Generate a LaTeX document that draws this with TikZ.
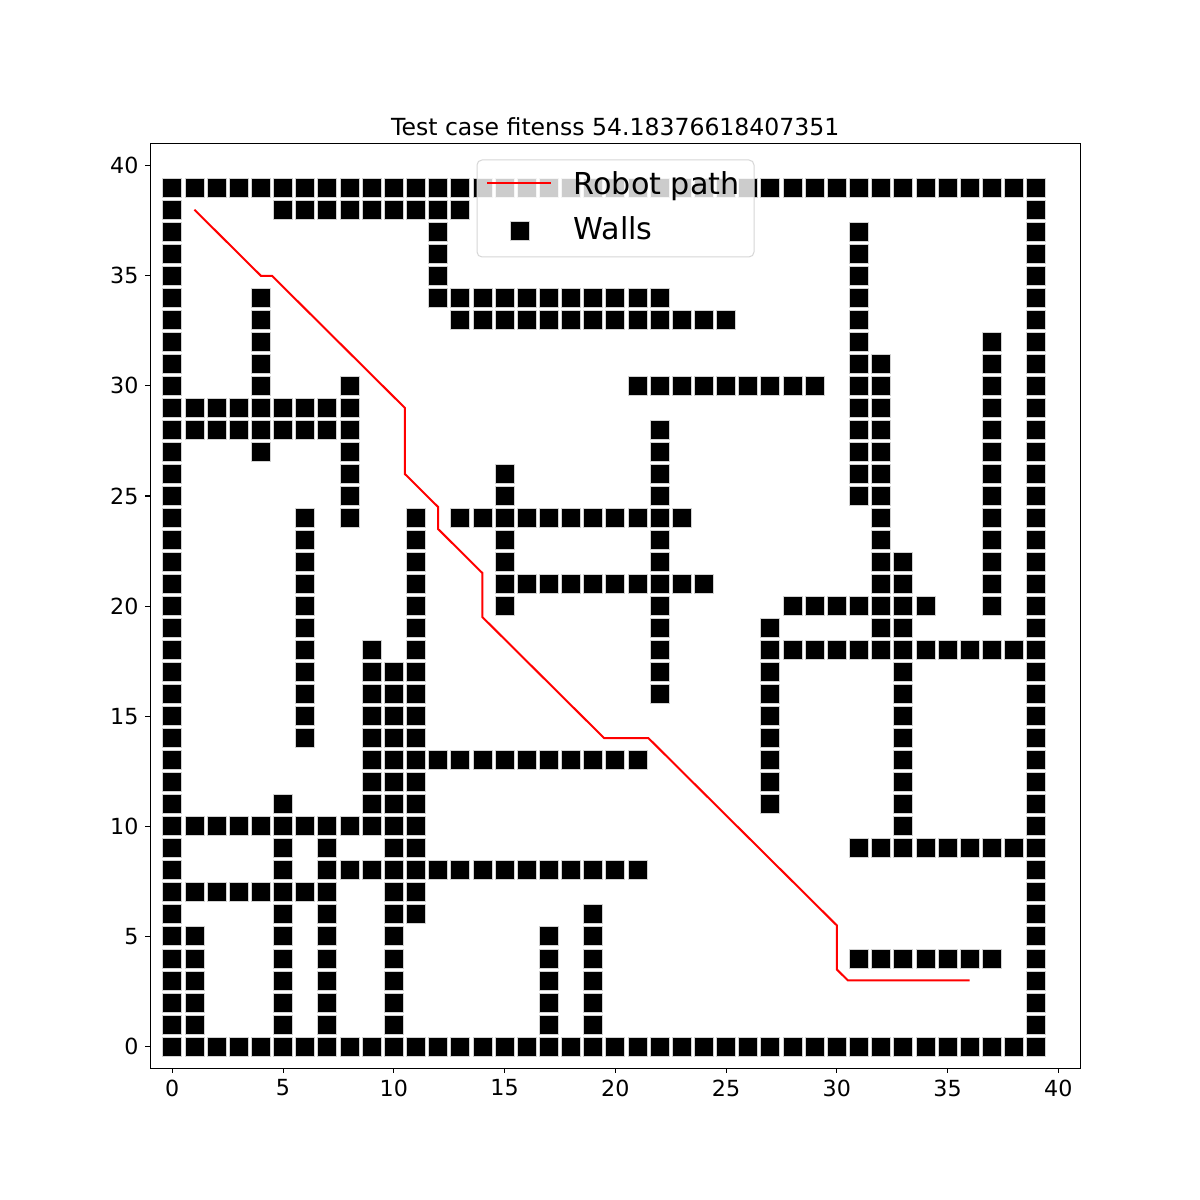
\documentclass[tikz,border=0pt]{standalone}
\usepackage{fontspec}
\setmainfont{DejaVu Sans}
\newcommand\wallrow[3]{\foreach \i in {#2,...,#3} {\node[wall] (w-\i-#1) at (\i,#1) {};}}
\newcommand\wallcol[3]{\foreach \j in {#2,...,#3} {\node[wall] (w-#1-\j) at (#1,\j) {};}}
\begin{document}
\begin{tikzpicture}[x=1pt,y=1pt,
  wall/.style={rectangle, fill=black, draw=black!18, line width=0.8pt, minimum size=19pt, inner sep=0pt, outer sep=0pt},
  ticklab/.style={inner sep=0pt, font=\fontsize{22.2}{26}\selectfont},
  leglab/.style={inner sep=0pt, anchor=base west, font=\fontsize{30.2}{34}\selectfont},
  pathline/.style={draw=red, line width=2pt, line join=miter}]
\useasboundingbox (0,0) rectangle (1200,1200);
\fill[white] (0,0) rectangle (1200,1200);
\begin{scope}[shift={(172.3pt,153.5pt)}, x=22.15pt, y=22.02pt]
  % border
  \wallrow{0}{0}{39}
  \wallrow{39}{0}{39}
  \wallcol{0}{1}{38}
  \wallcol{39}{1}{38}
  % inner walls
  \wallrow{38}{5}{13}
  \wallcol{12}{34}{37}
  \wallrow{34}{12}{22}
  \wallrow{33}{13}{25}
  \wallcol{4}{27}{34}
  \wallrow{29}{0}{8}
  \wallrow{28}{0}{8}
  \wallcol{8}{24}{30}
  \wallcol{6}{14}{24}
  \wallcol{11}{6}{24}
  \wallcol{10}{0}{17}
  \wallcol{9}{10}{18}
  \wallrow{13}{9}{21}
  \wallrow{10}{0}{11}
  \wallcol{5}{0}{11}
  \wallcol{7}{0}{9}
  \wallrow{8}{7}{21}
  \wallrow{7}{0}{7}
  \wallcol{1}{0}{5}
  \wallcol{17}{0}{5}
  \wallcol{19}{0}{6}
  \wallcol{15}{20}{26}
  \wallrow{24}{13}{23}
  \wallrow{21}{15}{24}
  \wallcol{22}{16}{28}
  \wallrow{30}{21}{29}
  \wallcol{31}{25}{37}
  \wallcol{32}{18}{31}
  \wallcol{33}{9}{22}
  \wallrow{20}{28}{34}
  \wallrow{18}{27}{39}
  \wallcol{27}{11}{19}
  \wallcol{37}{20}{32}
  \wallrow{9}{31}{39}
  \wallrow{4}{31}{37}
  % robot path
  \draw[pathline] (1,38) -- (4,35) -- (4.5,35) -- (10.5,29) -- (10.5,26) -- (12,24.5) -- (12,23.5) -- (14,21.5) -- (14,19.5) -- (19.5,14) -- (21.5,14) -- (30,5.5) -- (30,3.5) -- (30.5,3) -- (36,3);
  % axes frame
  \draw[line width=1.1pt] (-1,-1) rectangle (41,41);
  % ticks
  \foreach \v in {0,5,...,40} {
    \draw[line width=1.1pt] (\v,-1) -- ++(0pt,-4.9pt);
    \draw[line width=1.1pt] (-1,\v) -- ++(-4.9pt,0pt);
    \node[ticklab, anchor=north, yshift=-11pt] (xl\v) at (\v,-1) {\v};
    \node[ticklab, anchor=east, xshift=-11.5pt] (yl\v) at (-1,\v) {\v};
  }
  % title
  \node[inner sep=0pt, anchor=base, yshift=7.7pt, font=\fontsize{23.55}{28}\selectfont] (title) at (20,41) {Test case fitenss 54.18376618407351};
\end{scope}
% legend
\fill[white, opacity=0.8, rounded corners=5pt] (477,943) rectangle (754,1040);
\draw[draw=black!16, line width=1pt, rounded corners=5pt] (477,943) rectangle (754,1040);
\coordinate (la) at (487,1017);
\coordinate (lb) at (551,1017);
\draw[pathline] (la) -- (lb);
\node[wall] (legwall) at (519.5,969) {};
\node[leglab] (legpath) at (573.5,1005) {Robot path};
\node[leglab] (legwalls) at (573.5,960.7) {Walls};
\end{tikzpicture}
\end{document}
